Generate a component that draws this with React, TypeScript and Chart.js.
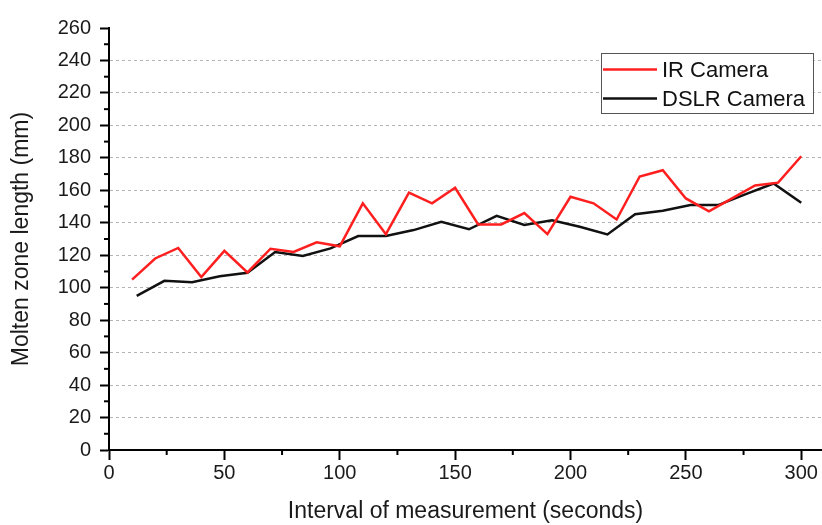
import React, { useEffect, useRef } from "react";
import { Chart, registerables } from "chart.js";

Chart.register(...registerables);

const irTimes = [10, 20, 30, 40, 50, 60, 70, 80, 90, 100, 110, 120, 130, 140, 150, 160, 170, 180, 190, 200, 210, 220, 230, 240, 250, 260, 270, 280, 290, 300];
const irValues = [105, 118, 124.5, 106.5, 122.7, 109.4, 124, 122, 128, 125.5, 152, 133, 158.6, 152, 161.6, 139, 139, 146, 133, 156, 152, 142, 168.5, 172.4, 155, 147, 155, 163, 164.7, 181];

const dslrTimes = [12, 24, 36, 48, 60, 72, 84, 96, 108, 120, 132, 144, 156, 168, 180, 192, 204, 216, 228, 240, 252, 264, 276, 288, 300];
const dslrValues = [95, 104.2, 103.4, 107, 109.2, 122, 119.6, 124.2, 131.8, 131.8, 135.5, 140.6, 136, 144.3, 138.7, 141.6, 137.5, 132.8, 145.3, 147.4, 150.9, 150.9, 157.6, 164.2, 152.3];

const seriesLabels = ["IR Camera", "DSLR Camera"];
const xMajorTicks = [0, 50, 100, 150, 200, 250, 300];
const yMajorTicks = [0, 20, 40, 60, 80, 100, 120, 140, 160, 180, 200, 220, 240, 260];

const FONT = 'Arial, "Liberation Sans", sans-serif';

const minorTicksPlugin = {
  id: "minorTicks",
  afterDraw(chart: any) {
    const ctx = chart.ctx;
    const xs = chart.scales.x;
    const ys = chart.scales.y;
    const area = chart.chartArea;
    ctx.save();
    ctx.strokeStyle = "#000";
    ctx.lineWidth = 2;
    xs.ticks.forEach((t: any) => {
      if (!xMajorTicks.includes(t.value)) {
        const px = xs.getPixelForValue(t.value);
        ctx.beginPath();
        ctx.moveTo(px, area.bottom);
        ctx.lineTo(px, area.bottom + 5);
        ctx.stroke();
      }
    });
    ys.ticks.forEach((t: any) => {
      if (!yMajorTicks.includes(t.value)) {
        const py = ys.getPixelForValue(t.value);
        ctx.beginPath();
        ctx.moveTo(area.left, py);
        ctx.lineTo(area.left - 5, py);
        ctx.stroke();
      }
    });
    ctx.restore();
  },
};

const boxLegendPlugin = {
  id: "boxLegend",
  afterDraw(chart: any) {
    const ctx = chart.ctx;
    const bx = 601;
    const by = 53;
    const bw = 212;
    const bh = 60;
    ctx.save();
    ctx.fillStyle = "#fff";
    ctx.fillRect(bx, by, bw, bh);
    ctx.strokeStyle = "#555";
    ctx.lineWidth = 1;
    ctx.strokeRect(bx + 0.5, by + 0.5, bw, bh);
    chart.data.datasets.forEach((ds: any, i: number) => {
      const y = 69.5 + i * 29;
      ctx.strokeStyle = ds.borderColor;
      ctx.lineWidth = 2.5;
      ctx.beginPath();
      ctx.moveTo(603, y);
      ctx.lineTo(657, y);
      ctx.stroke();
      ctx.fillStyle = "#111";
      ctx.font = `22px ${FONT}`;
      ctx.textBaseline = "middle";
      ctx.textAlign = "left";
      ctx.fillText(ds.label, 662, y + 1);
    });
    ctx.restore();
  },
};

export default function App() {
  const canvasRef = useRef<HTMLCanvasElement | null>(null);

  useEffect(() => {
    if (!canvasRef.current) return;
    const chart = new Chart(canvasRef.current, {
      type: "line",
      data: {
        datasets: [
          {
            label: seriesLabels[0],
            data: irTimes.map((t, i) => ({ x: t, y: irValues[i] })),
            borderColor: "#ff1f1f",
            borderWidth: 2.5,
            pointRadius: 0,
            fill: false,
            tension: 0,
          },
          {
            label: seriesLabels[1],
            data: dslrTimes.map((t, i) => ({ x: t, y: dslrValues[i] })),
            borderColor: "#111111",
            borderWidth: 2.5,
            pointRadius: 0,
            fill: false,
            tension: 0,
          },
        ],
      },
      options: {
        responsive: false,
        animation: false,
        layout: { padding: { top: 28, left: 0, right: 0, bottom: 0 } },
        plugins: {
          legend: { display: false },
          tooltip: { enabled: false },
        },
        scales: {
          x: {
            type: "linear",
            min: 0,
            max: 309,
            afterFit: (s: any) => {
              s.height = 75;
            },
            ticks: {
              stepSize: 25,
              includeBounds: false,
              autoSkip: false,
              maxRotation: 0,
              padding: 1,
              color: "#1a1a1a",
              font: { family: FONT, size: 20 },
              callback: (v: any) => (xMajorTicks.includes(Number(v)) ? String(v) : ""),
            },
            grid: {
              drawOnChartArea: false,
              tickLength: 10,
              tickWidth: 2,
              tickColor: (c: any) => (xMajorTicks.includes(c.tick?.value) ? "#000" : "transparent"),
            },
            border: { display: true, color: "#000", width: 2 },
            title: {
              display: true,
              text: "Interval of measurement (seconds)",
              color: "#1a1a1a",
              font: { family: FONT, size: 23 },
              padding: { top: 0, bottom: 0 },
            },
          },
          y: {
            type: "linear",
            min: 0,
            max: 260,
            afterFit: (s: any) => {
              s.width = 109;
            },
            ticks: {
              stepSize: 10,
              autoSkip: false,
              padding: 9,
              color: "#1a1a1a",
              font: { family: FONT, size: 20 },
              callback: (v: any) => (yMajorTicks.includes(Number(v)) ? String(v) : ""),
            },
            grid: {
              drawOnChartArea: true,
              lineWidth: 1,
              color: (c: any) => {
                const v = c.tick?.value;
                return yMajorTicks.includes(v) && v > 0 && v < 260 ? "#b4b4b4" : "transparent";
              },
              tickLength: 9,
              tickWidth: 2,
              tickColor: (c: any) => (yMajorTicks.includes(c.tick?.value) ? "#000" : "transparent"),
            },
            border: { display: true, color: "#000", width: 2, dash: [3, 3] },
            title: {
              display: true,
              text: "Molten zone length (mm)",
              color: "#1a1a1a",
              font: { family: FONT, size: 23 },
              padding: { top: 8, bottom: 0 },
            },
          },
        },
      },
      plugins: [minorTicksPlugin, boxLegendPlugin],
    });
    return () => chart.destroy();
  }, []);

  return (
    <div style={{ position: "absolute", left: 0, top: 0, width: 822, height: 525, background: "#fff" }}>
      <canvas ref={canvasRef} width={822} height={525} />
    </div>
  );
}
